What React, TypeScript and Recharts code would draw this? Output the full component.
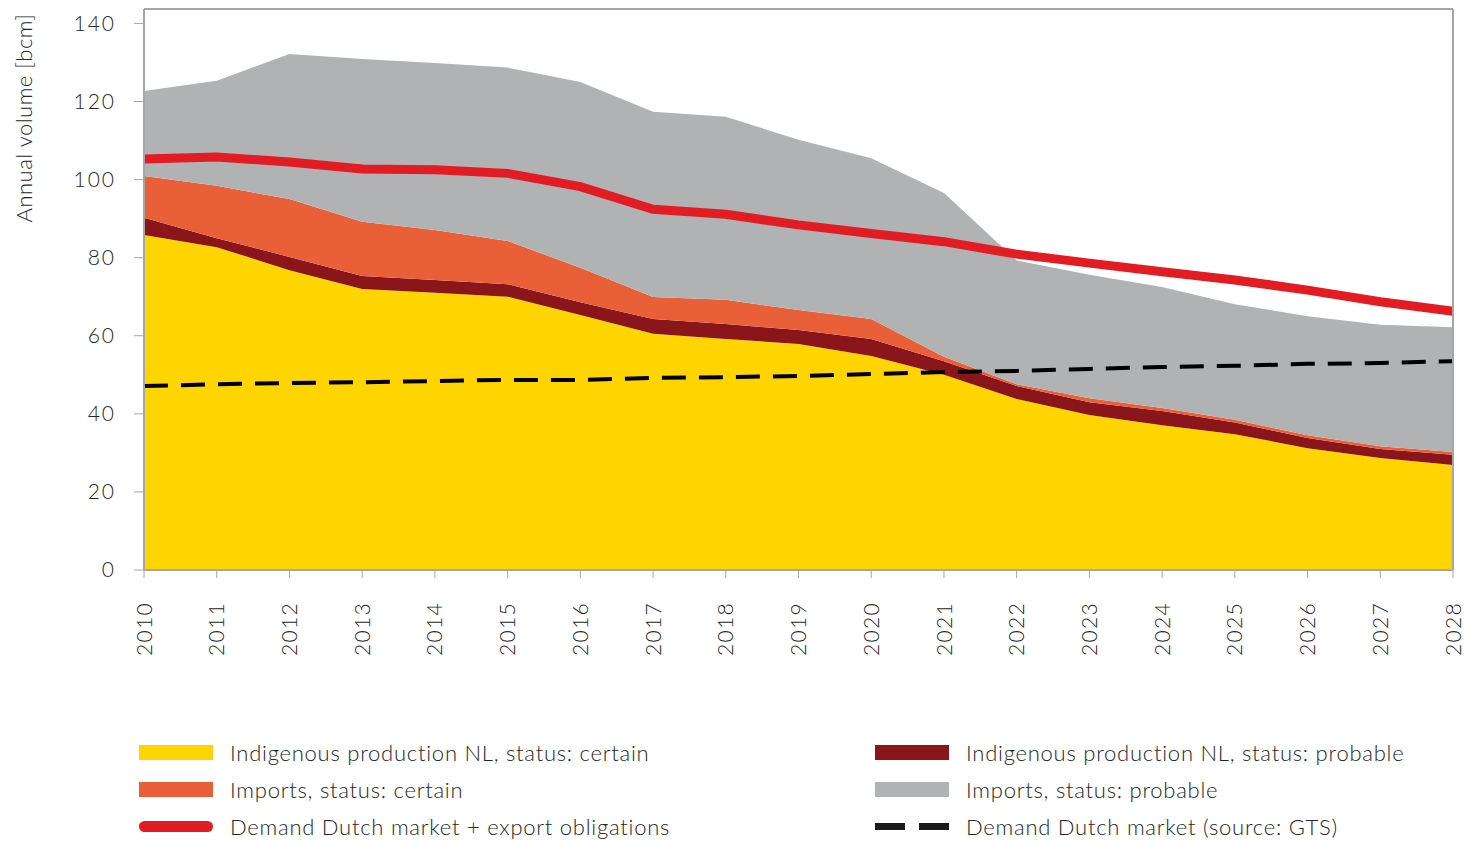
import {
  Area,
  ComposedChart,
  Line,
  ReferenceLine,
  XAxis,
  YAxis,
} from "recharts";

const years = [
  "2010", "2011", "2012", "2013", "2014", "2015", "2016", "2017", "2018", "2019",
  "2020", "2021", "2022", "2023", "2024", "2025", "2026", "2027", "2028",
];

// bcm, stacked from the bottom up
const indigenousCertain = [85.8, 82.7, 76.8, 72.0, 71.0, 70.0, 65.3, 60.5, 59.2, 57.9, 54.8, 50.0, 43.8, 39.7, 37.1, 34.8, 31.2, 28.7, 26.9];
const indigenousProbable = [4.4, 2.3, 3.4, 3.3, 3.3, 3.2, 3.3, 3.8, 3.8, 3.6, 4.4, 3.5, 3.3, 3.3, 3.6, 3.0, 2.6, 2.3, 2.6];
const importsCertain = [10.7, 13.4, 14.8, 13.9, 12.8, 11.1, 8.8, 5.6, 6.2, 5.1, 5.1, 1.1, 0.5, 1.0, 0.8, 0.7, 0.7, 0.7, 0.7];
const importsProbable = [21.8, 26.9, 37.2, 41.7, 42.8, 44.4, 47.6, 47.5, 46.9, 43.6, 41.2, 42.0, 31.7, 31.6, 31.0, 29.6, 30.5, 31.1, 32.0];

const demandWithExport = [105.3, 105.8, 104.5, 102.7, 102.5, 101.6, 98.2, 92.4, 91.1, 88.4, 86.2, 84.1, 80.9, 78.6, 76.4, 74.3, 71.7, 68.7, 66.3];
const demandDutch = [47.1, 47.6, 47.9, 48.1, 48.4, 48.7, 48.7, 49.2, 49.4, 49.7, 50.2, 50.7, 51.0, 51.5, 52.0, 52.3, 52.8, 53.0, 53.5];

const yTicks = [0, 20, 40, 60, 80, 100, 120, 140];
const Y_MAX = 143.7; // plot frame sits a little above the 140 tick

const data = years.map((year, i) => ({
  year,
  indCertain: indigenousCertain[i],
  indProbable: indigenousProbable[i],
  impCertain: importsCertain[i],
  impProbable: importsProbable[i],
  demandExport: demandWithExport[i],
  demandNL: demandDutch[i],
}));

const FONT = "Lato, 'Open Sans', sans-serif";
const TEXT = "#262626";
const AXIS = "#a6a6a6";

const C = {
  yellow: "#FED500",
  darkRed: "#8A151A",
  orange: "#E95F38",
  grey: "#B1B2B4",
  red: "#E31B23",
};

function YearTick({ x, y, payload }: any) {
  return (
    <text
      transform={`translate(${x},${y + 22}) rotate(-90)`}
      textAnchor="end"
      dy="0.36em"
      fontSize={21}
      fontWeight={300}
      letterSpacing={1.3}
      fill={TEXT}
      fontFamily={FONT}
    >
      {payload.value}
    </text>
  );
}

const legendLeft = [
  { label: "Indigenous production NL, status: certain", kind: "box", color: C.yellow },
  { label: "Imports, status: certain", kind: "box", color: C.orange },
  { label: "Demand Dutch market + export obligations", kind: "line", color: C.red },
];
const legendRight = [
  { label: "Indigenous production NL, status: probable", kind: "box", color: C.darkRed },
  { label: "Imports, status: probable", kind: "box", color: C.grey },
  { label: "Demand Dutch market (source: GTS)", kind: "dash", color: "#1a1a1a" },
];

function Swatch({ kind, color }: { kind: string; color: string }) {
  if (kind === "line") {
    return <div style={{ width: 74, height: 11, borderRadius: 6, background: color }} />;
  }
  if (kind === "dash") {
    return (
      <div style={{ width: 74, display: "flex", justifyContent: "space-between" }}>
        <div style={{ width: 30, height: 7, background: color }} />
        <div style={{ width: 30, height: 7, background: color }} />
      </div>
    );
  }
  return <div style={{ width: 74, height: 15, background: color }} />;
}

function LegendColumn({ items, left }: { items: typeof legendLeft; left: number }) {
  return (
    <div style={{ position: "absolute", left, top: 734 }}>
      {items.map((it) => (
        <div key={it.label} style={{ display: "flex", alignItems: "center", height: 37 }}>
          <Swatch kind={it.kind} color={it.color} />
          <span
            style={{
              marginLeft: 17,
              fontSize: 22,
              fontWeight: 300,
              letterSpacing: 0.75,
              color: TEXT,
              fontFamily: FONT,
              whiteSpace: "nowrap",
            }}
          >
            {it.label}
          </span>
        </div>
      ))}
    </div>
  );
}

export default function App() {
  return (
    <div style={{ position: "absolute", left: 0, top: 0, width: 1470, height: 842, background: "#fff" }}>
      <ComposedChart
        width={1470}
        height={700}
        data={data}
        margin={{ top: 9, right: 17, left: 0, bottom: 0 }}
      >
        <XAxis
          dataKey="year"
          scale="point"
          height={130}
          tickLine={{ stroke: AXIS }}
          tickSize={8}
          axisLine={{ stroke: AXIS, strokeWidth: 2 }}
          tick={<YearTick />}
          interval={0}
        />
        <YAxis
          width={144}
          domain={[0, Y_MAX]}
          ticks={yTicks}
          allowDataOverflow
          tickSize={10}
          tickMargin={18}
          tickLine={{ stroke: AXIS }}
          axisLine={{ stroke: AXIS, strokeWidth: 2 }}
          tick={{ fontSize: 21, fontWeight: 300, fill: TEXT, fontFamily: FONT, letterSpacing: 2 }}
          label={() => (
            <text
              transform="translate(32,118) rotate(-90)"
              textAnchor="middle"
              fontSize={22}
              fontWeight={300}
              letterSpacing={0.5}
              fill={TEXT}
              fontFamily={FONT}
            >
              Annual volume [bcm]
            </text>
          )}
        />
        <Area
          type="linear"
          dataKey="indCertain"
          stackId="s"
          fill={C.yellow}
          fillOpacity={1}
          stroke="none"
          isAnimationActive={false}
        />
        <Area
          type="linear"
          dataKey="indProbable"
          stackId="s"
          fill={C.darkRed}
          fillOpacity={1}
          stroke="none"
          isAnimationActive={false}
        />
        <Area
          type="linear"
          dataKey="impCertain"
          stackId="s"
          fill={C.orange}
          fillOpacity={1}
          stroke="none"
          isAnimationActive={false}
        />
        <Area
          type="linear"
          dataKey="impProbable"
          stackId="s"
          fill={C.grey}
          fillOpacity={1}
          stroke="none"
          isAnimationActive={false}
        />
        <Line
          type="linear"
          dataKey="demandExport"
          stroke={C.red}
          strokeWidth={9}
          dot={false}
          activeDot={false}
          isAnimationActive={false}
        />
        <Line
          type="linear"
          dataKey="demandNL"
          stroke="#000"
          strokeWidth={4}
          strokeDasharray="24 13"
          dot={false}
          activeDot={false}
          isAnimationActive={false}
        />
        {/* plot frame: top and right edges */}
        <ReferenceLine y={Y_MAX} stroke={AXIS} strokeWidth={2} />
        <ReferenceLine x="2028" stroke={AXIS} strokeWidth={2} />
      </ComposedChart>
      <LegendColumn items={legendLeft} left={139} />
      <LegendColumn items={legendRight} left={875} />
    </div>
  );
}
